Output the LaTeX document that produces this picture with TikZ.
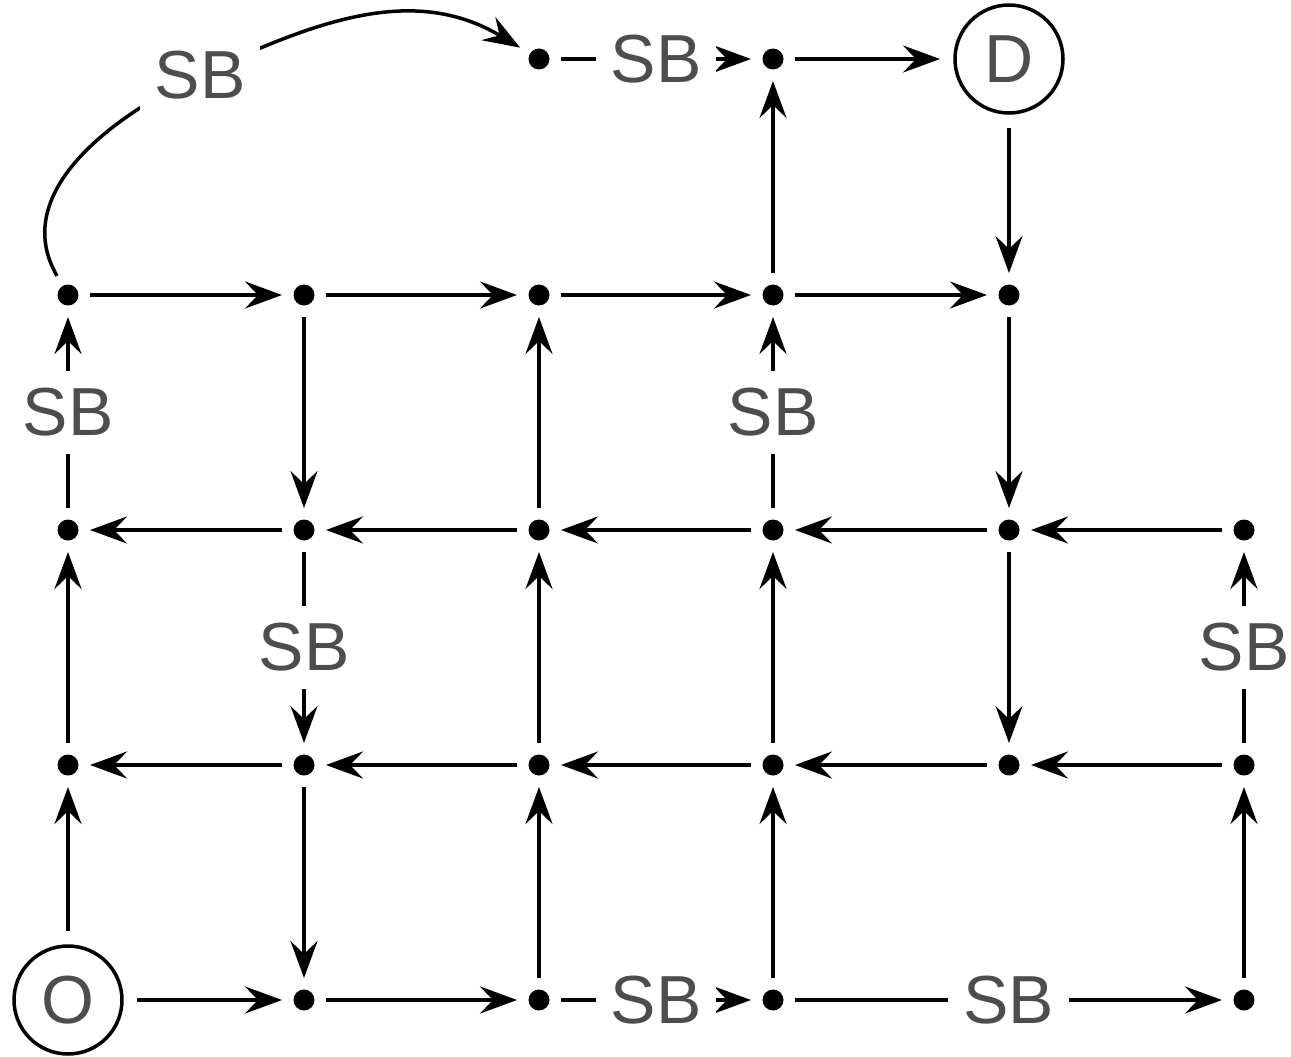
\documentclass[tikz,border=0pt]{standalone}
\usepackage{fontspec}
\setmainfont{Liberation Sans}
\usetikzlibrary{arrows.meta}
\definecolor{txtgray}{HTML}{4D4D4D}
\begin{document}
\begin{tikzpicture}[x=1pt,y=-1pt,
  dotnode/.style={circle,fill=black,minimum size=21pt,inner sep=0pt,outer sep=11.5pt},
  endnode/.style={circle,draw=black,line width=3.5pt,minimum size=108pt,inner sep=0pt,outer sep=15pt,
    text=txtgray,font=\fontsize{68}{80}\selectfont},
  arr/.style={line width=4pt,-{Stealth[length=37pt,width=27pt,inset=13pt]}},
  sb/.style={fill=white,text=txtgray,font=\fontsize{68}{80}\selectfont,inner xsep=15pt,inner ysep=17pt}
]
\useasboundingbox (0,0) rectangle (1291,1057);
% row 0 (y=1000)
\node[endnode] (O) at (68,1000) {O};
\node[dotnode] (n10) at (304,1000) {};
\node[dotnode] (n20) at (539,1000) {};
\node[dotnode] (n30) at (773,1000) {};
\node[dotnode] (n50) at (1244,1000) {};
% row 1 (y=765)
\node[dotnode] (n01) at (68,765) {};
\node[dotnode] (n11) at (304,765) {};
\node[dotnode] (n21) at (539,765) {};
\node[dotnode] (n31) at (773,765) {};
\node[dotnode] (n41) at (1009,765) {};
\node[dotnode] (n51) at (1244,765) {};
% row 2 (y=530)
\node[dotnode] (n02) at (68,530) {};
\node[dotnode] (n12) at (304,530) {};
\node[dotnode] (n22) at (539,530) {};
\node[dotnode] (n32) at (773,530) {};
\node[dotnode] (n42) at (1009,530) {};
\node[dotnode] (n52) at (1244,530) {};
% row 3 (y=295)
\node[dotnode] (n03) at (68,295) {};
\node[dotnode] (n13) at (304,295) {};
\node[dotnode] (n23) at (539,295) {};
\node[dotnode] (n33) at (773,295) {};
\node[dotnode] (n43) at (1009,295) {};
% row 4 (y=59)
\node[dotnode] (n24) at (539,59) {};
\node[dotnode] (n34) at (773,59) {};
\node[endnode] (D) at (1009,59) {D};

% horizontal edges
\draw[arr] (O) -- (n10);
\draw[arr] (n10) -- (n20);
\draw[arr] (n20) -- node[sb]{SB} (n30);
\draw[arr] (n30) -- node[sb]{SB} (n50);

\draw[arr] (n11) -- (n01);
\draw[arr] (n21) -- (n11);
\draw[arr] (n31) -- (n21);
\draw[arr] (n41) -- (n31);
\draw[arr] (n51) -- (n41);

\draw[arr] (n12) -- (n02);
\draw[arr] (n22) -- (n12);
\draw[arr] (n32) -- (n22);
\draw[arr] (n42) -- (n32);
\draw[arr] (n52) -- (n42);

\draw[arr] (n03) -- (n13);
\draw[arr] (n13) -- (n23);
\draw[arr] (n23) -- (n33);
\draw[arr] (n33) -- (n43);

\draw[arr] (n24) -- node[sb]{SB} (n34);
\draw[arr] (n34) -- (D);

% vertical edges
\draw[arr] (O) -- (n01);
\draw[arr] (n01) -- (n02);
\draw[arr] (n02) -- node[sb]{SB} (n03);

\draw[arr] (n13) -- (n12);
\draw[arr] (n12) -- node[sb]{SB} (n11);
\draw[arr] (n11) -- (n10);

\draw[arr] (n20) -- (n21);
\draw[arr] (n21) -- (n22);
\draw[arr] (n22) -- (n23);

\draw[arr] (n30) -- (n31);
\draw[arr] (n31) -- (n32);
\draw[arr] (n32) -- node[sb]{SB} (n33);
\draw[arr] (n33) -- (n34);

\draw[arr] (D) -- (n43);
\draw[arr] (n43) -- (n42);
\draw[arr] (n42) -- (n41);

\draw[arr] (n50) -- (n51);
\draw[arr] (n51) -- node[sb]{SB} (n52);

% curved edge
\coordinate (cv) at (200,75);
\draw[arr,line width=3.5pt] (n03) to[out=120,in=205] (cv) to[out=25,in=149] (n24);
\node[sb] (cvl) at (cv) {SB};
\end{tikzpicture}
\end{document}
